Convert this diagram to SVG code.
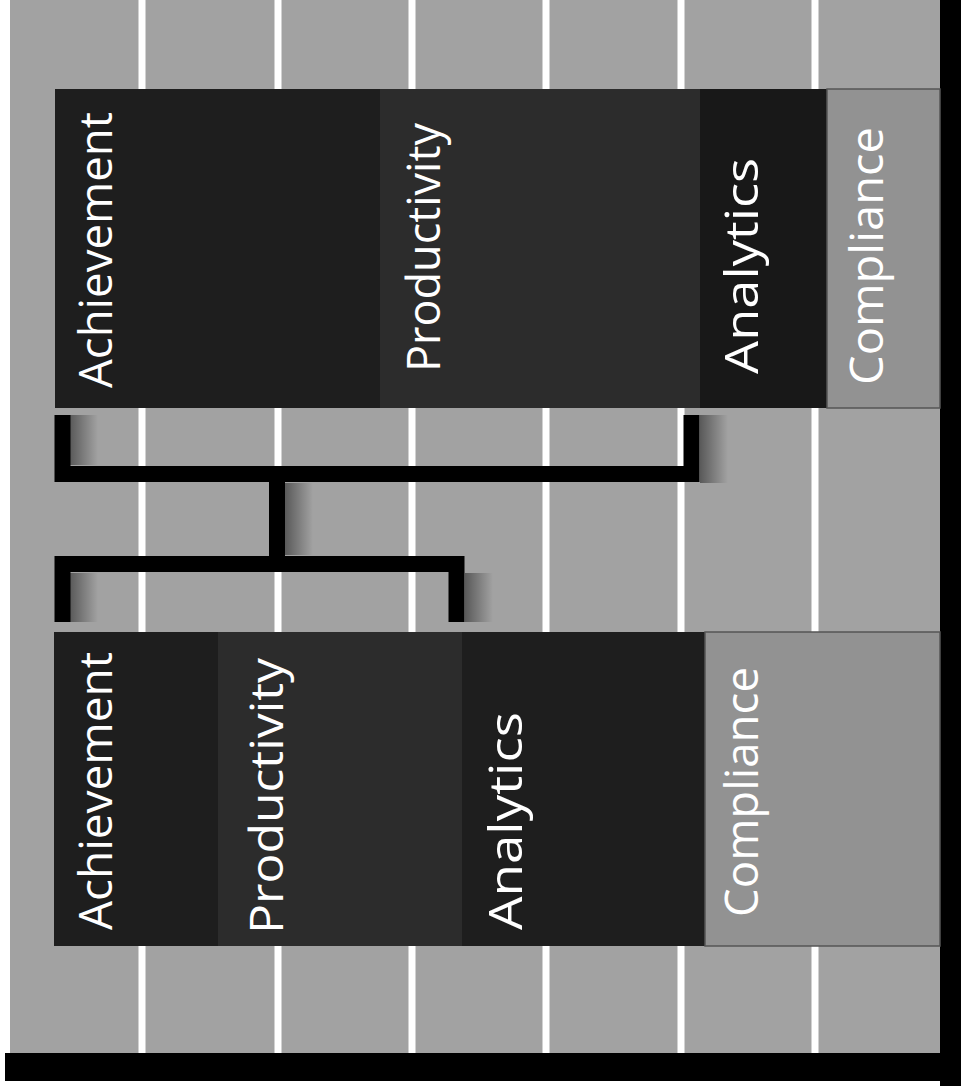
<svg xmlns="http://www.w3.org/2000/svg" width="961" height="1086" viewBox="0 0 961 1086">
<style>
.lbl{font-family:"Open Sans","Noto Sans","DejaVu Sans",sans-serif;font-size:46px;fill:#fff}
.grid{stroke:#fff;stroke-width:7}
.conn{stroke:#000;stroke-width:16;fill:none;stroke-linejoin:miter;stroke-linecap:butt}
.ach{fill:#1e1e1e}
.pro{fill:#2c2c2c}
.ana{fill:#181818}
.com{fill:#929292}
.edge{stroke:#555;stroke-width:1.5}
.shade{fill:url(#sh)}
</style>
<defs>
<linearGradient id="sh" x1="0" y1="0" x2="1" y2="0">
<stop offset="0" stop-color="#000" stop-opacity="0.45"/>
<stop offset="1" stop-color="#000" stop-opacity="0"/>
</linearGradient>
</defs>
<rect width="961" height="1086" fill="#fff"/>
<rect x="10" y="0" width="932" height="1055" fill="#a2a2a2"/>
<g id="grid">
<line class="grid" x1="142" y1="0" x2="142" y2="1055"/>
<line class="grid" x1="278" y1="0" x2="278" y2="1055"/>
<line class="grid" x1="412" y1="0" x2="412" y2="1055"/>
<line class="grid" x1="546" y1="0" x2="546" y2="1055"/>
<line class="grid" x1="681" y1="0" x2="681" y2="1055"/>
<line class="grid" x1="815" y1="0" x2="815" y2="1055"/>
</g>
<rect x="940" y="0" width="21" height="1086" fill="#000"/>
<rect x="5" y="1053" width="956" height="28" fill="#000"/>
<g id="bar-top">
<g id="top-achievement"><rect class="ach" x="55" y="89" width="325" height="319"/><text class="lbl" transform="translate(112,388) rotate(-90)" textLength="276" lengthAdjust="spacingAndGlyphs">Achievement</text></g>
<g id="top-productivity"><rect class="pro" x="380" y="89" width="320" height="319"/><text class="lbl" transform="translate(440,372) rotate(-90)" textLength="249" lengthAdjust="spacingAndGlyphs">Productivity</text></g>
<g id="top-analytics"><rect class="ana" x="700" y="89" width="127" height="319"/><text class="lbl" transform="translate(758,374) rotate(-90)" textLength="216" lengthAdjust="spacingAndGlyphs">Analytics</text></g>
<g id="top-compliance"><rect class="com edge" x="827" y="89" width="113" height="319"/><text class="lbl" transform="translate(883,385) rotate(-90)" textLength="258" lengthAdjust="spacingAndGlyphs">Compliance</text></g>
</g>
<g id="bar-bottom">
<g id="bottom-achievement"><rect class="ach" x="54" y="632" width="164" height="314"/><text class="lbl" transform="translate(112,930) rotate(-90)" textLength="278" lengthAdjust="spacingAndGlyphs">Achievement</text></g>
<g id="bottom-productivity"><rect class="pro" x="218" y="632" width="244" height="314"/><text class="lbl" transform="translate(283,934) rotate(-90)" textLength="276" lengthAdjust="spacingAndGlyphs">Productivity</text></g>
<g id="bottom-analytics"><rect class="ach" x="462" y="632" width="243" height="314"/><text class="lbl" transform="translate(522,930) rotate(-90)" textLength="218" lengthAdjust="spacingAndGlyphs">Analytics</text></g>
<g id="bottom-compliance"><rect class="com edge" x="705" y="632" width="235" height="314"/><text class="lbl" transform="translate(758,917) rotate(-90)" textLength="250" lengthAdjust="spacingAndGlyphs">Compliance</text></g>
</g>
<g id="connectors">
<rect class="shade" x="70" y="415" width="28" height="50"/>
<rect class="shade" x="700" y="415" width="28" height="68"/>
<rect class="shade" x="285" y="483" width="28" height="72"/>
<rect class="shade" x="70" y="573" width="28" height="49"/>
<rect class="shade" x="465" y="573" width="28" height="49"/>
<path class="conn" d="M62.5 415 V474 H691.5 V415"/>
<path class="conn" d="M277 474 V564"/>
<path class="conn" d="M62.5 622 V564 H456.5 V622"/>
</g>
</svg>
